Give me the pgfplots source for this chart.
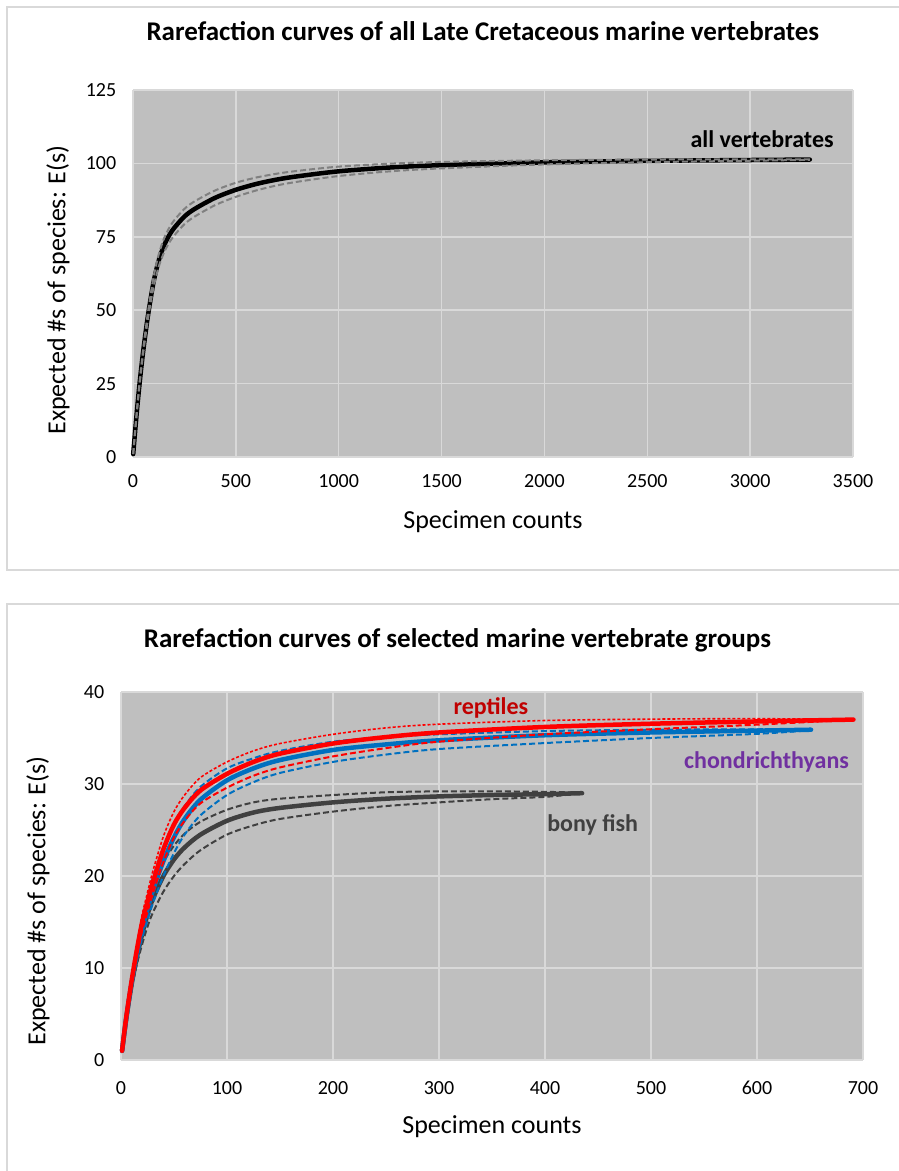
\documentclass[border=0pt]{standalone}
\usepackage{fontspec}
\setmainfont{Carlito}
\usepackage{pgfplots}
\pgfplotsset{compat=1.18}
\usepackage{pgfplotstable}

\definecolor{plotbg}{HTML}{BFBFBF}
\definecolor{gridc}{HTML}{D9D9D9}
\definecolor{framec}{HTML}{D9D9D9}
\definecolor{dashgray}{HTML}{808080}
\definecolor{xred}{HTML}{FF0000}
\definecolor{xblue}{HTML}{0070C0}
\definecolor{xgray}{HTML}{404040}
\definecolor{darkred}{HTML}{C00000}
\definecolor{purp}{HTML}{7030A0}

% all vertebrates: x, mean, lower, upper
\pgfplotstableread{
x m lo hi
1 1 1 1
10 8.5 8.4 8.6
20 16.4 16.2 16.6
30 23.7 23.35 24.05
40 30.3 29.8 30.8
50 36.3 35.6 37.0
60 41.7 40.8 42.6
75 49.2 48.0 50.4
100 59.6 57.9 61.3
125 66.9 64.8 69.0
150 71.9 69.5 74.3
175 75.4 72.9 77.9
200 78.0 75.4 80.6
250 81.9 79.3 84.5
300 84.5 81.9 87.1
400 88.3 85.8 90.8
500 91.0 88.6 93.4
600 93.0 90.8 95.2
700 94.5 92.5 96.5
800 95.6 93.75 97.45
1000 97.3 95.7 98.9
1250 98.6 97.3 99.9
1500 99.4 98.3 100.5
2000 100.35 99.65 101.05
2500 100.85 100.4 101.3
3000 101.15 100.9 101.4
3290 101.3 101.2 101.4
}\tall

% reptiles
\pgfplotstableread{
x m lo hi
1 1 1 1
5 4.7 4.6 4.8
10 8.6 8.2 9.0
15 12.0 11.3 12.6
20 15.0 14.1 15.8
25 17.2 16.1 18.2
30 19.3 18.1 20.5
40 22.9 21.5 24.3
50 25.6 24.2 27.0
60 27.4 26.0 28.8
75 29.3 27.9 30.7
100 31.1 29.6 32.4
125 32.4 30.9 33.6
150 33.3 31.8 34.4
200 34.4 33.0 35.4
250 35.1 33.9 36.1
300 35.6 34.6 36.5
400 36.2 35.4 36.9
500 36.55 35.95 37.05
600 36.8 36.45 37.1
691 37.0 37.0 37.0
}\trep

% chondrichthyans
\pgfplotstableread{
x m lo hi
1 1 1 1
5 4.6 4.5 4.75
10 8.4 8.0 8.8
15 11.6 10.9 12.3
20 14.3 13.3 15.2
25 16.4 15.2 17.6
30 18.4 17.0 19.8
40 21.6 20.0 23.1
50 24.2 22.5 25.7
60 26.2 24.5 27.6
75 28.3 26.6 29.7
100 30.4 28.8 31.7
125 31.7 30.2 32.8
150 32.6 31.2 33.6
200 33.7 32.4 34.6
250 34.3 33.2 35.1
300 34.75 33.8 35.4
400 35.3 34.45 35.75
500 35.6 35.0 35.9
600 35.8 35.45 35.95
651 35.9 35.85 35.95
}\tcho

% bony fish
\pgfplotstableread{
x m lo hi
1 1 1 1
5 4.5 4.3 4.7
10 8.2 7.7 8.6
15 11.2 10.4 11.9
20 13.7 12.6 14.7
25 15.8 14.5 16.9
30 17.5 16.0 18.8
40 20.0 18.3 21.5
50 21.8 20.0 23.3
60 23.1 21.3 24.6
75 24.5 22.8 25.9
100 26.0 24.5 27.2
125 26.9 25.5 28.0
150 27.4 26.2 28.4
200 28.0 27.0 28.8
250 28.4 27.6 29.1
300 28.65 28.0 29.2
350 28.8 28.35 29.2
400 28.9 28.6 29.15
435 29.0 29.0 29.05
}\tfish

\pgfplotsset{
  mystyle/.style={
    scale only axis,
    axis background/.style={fill=plotbg},
    axis line style={draw=none},
    major tick length=0pt,
    grid=major,
    grid style={gridc, line width=1.5bp},
    tick label style={font=\fontsize{20bp}{24bp}\selectfont},
    label style={font=\fontsize{26bp}{30bp}\selectfont},
    title style={font=\fontsize{27bp}{32bp}\selectfont\bfseries, anchor=base},
    xticklabel style={anchor=center},
    yticklabel style={anchor=east, xshift=-13.3bp},
    /pgf/number format/assume math mode=true,
    /pgf/number format/1000 sep={},
    clip=false,
    xlabel={Specimen counts},
    ylabel={Expected \#s of species: E(s)},
  },
  mean/.style={line width=4.5bp, line cap=round, line join=round, smooth, tension=0.5},
  bound/.style={line width=2bp, dash pattern=on 6bp off 3bp, smooth, tension=0.5},
  fine/.style={line width=1.6bp, dash pattern=on 3bp off 2bp, smooth, tension=0.5},
}

\begin{document}
\begin{tikzpicture}
\useasboundingbox (0,0) rectangle (899bp,1171bp);
\fill[white] (0,0) rectangle (899bp,1171bp);
\draw[framec, line width=1.5bp] (7bp,601bp) rectangle (920bp,1164bp);
\draw[framec, line width=1.5bp] (7bp,-20bp) rectangle (920bp,567bp);

\begin{axis}[mystyle,
  at={(133bp,714bp)}, anchor=south west,
  width=720bp, height=367bp,
  xmin=0, xmax=3500, ymin=0, ymax=125,
  xtick={0,500,...,3500}, ytick={0,25,...,125},
  xticklabel style={yshift=-24bp},
  title={Rarefaction curves of all Late Cretaceous marine vertebrates},
  title style={at={(axis description cs:0.486,1.118)}},
  xlabel style={at={(axis description cs:0.5,-0.1946)}, anchor=base},
  ylabel style={at={(axis description cs:-0.0939,0.455)}, anchor=base},
]
\addplot[black, mean] table[x=x, y=m]{\tall};
\addplot[dashgray, bound] table[x=x, y=lo]{\tall};
\addplot[dashgray, bound] table[x=x, y=hi]{\tall};
\node[font=\fontsize{24bp}{28bp}\selectfont\bfseries, text=black, anchor=center] at (axis cs:3058,108.3) {all vertebrates};
\end{axis}

\begin{axis}[mystyle,
  at={(121bp,111bp)}, anchor=south west,
  width=742bp, height=368bp,
  xmin=0, xmax=700, ymin=0, ymax=40,
  xtick={0,100,...,700}, ytick={0,10,...,40},
  xticklabel style={yshift=-28bp},
  title={Rarefaction curves of selected marine vertebrate groups},
  title style={at={(axis description cs:0.4535,1.104)}},
  xlabel style={at={(axis description cs:0.5,-0.1995)}, anchor=base},
  ylabel style={at={(axis description cs:-0.1019,0.432)}, anchor=base},
]
\addplot[xgray, bound] table[x=x, y=lo]{\tfish};
\addplot[xgray, bound] table[x=x, y=hi]{\tfish};
\addplot[xgray, mean] table[x=x, y=m]{\tfish};
\addplot[xblue, bound] table[x=x, y=lo]{\tcho};
\addplot[xblue, bound] table[x=x, y=hi]{\tcho};
\addplot[xblue, mean] table[x=x, y=m]{\tcho};
\addplot[xred, bound] table[x=x, y=lo]{\trep};
\addplot[xred, fine] table[x=x, y=hi]{\trep};
\addplot[xred, mean] table[x=x, y=m]{\trep};
\node[font=\fontsize{24bp}{28bp}\selectfont\bfseries, text=darkred, anchor=center] at (axis cs:349,38.3) {reptiles};
\node[font=\fontsize{24bp}{28bp}\selectfont\bfseries, text=purp, anchor=center] at (axis cs:609,32.4) {chondrichthyans};
\node[font=\fontsize{24bp}{28bp}\selectfont\bfseries, text=xgray, anchor=center] at (axis cs:445,25.5) {bony fish};
\end{axis}
\end{tikzpicture}
\end{document}
